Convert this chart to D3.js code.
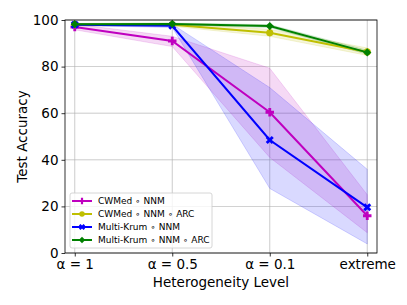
<!DOCTYPE html>
<html>
<head>
<meta charset="utf-8">
<script src="https://cdn.jsdelivr.net/npm/d3@7"></script>
<style>
body { margin: 0; background: #fff; }
svg { font-family: "DejaVu Sans", sans-serif; }
</style>
</head>
<body>
<div id="chart"></div>
<script>
var levels = ["α = 1", "α = 0.5", "α = 0.1", "extreme"];
var yTicks = [0, 20, 40, 60, 80, 100];

var cwmedNnm = [97, 91, 60.4, 16];
var cwmedNnmLo = [95.8, 88.6, 41, 8.7];
var cwmedNnmHi = [98.2, 93, 79.3, 25];

var cwmedArc = [98, 98, 94.5, 86.3];
var cwmedArcLo = [97.5, 97.3, 93, 84.8];
var cwmedArcHi = [98.5, 98.6, 96, 88];

var krumNnm = [98, 97.5, 48.5, 19.6];
var krumNnmLo = [97.6, 96.8, 27.7, 3.9];
var krumNnmHi = [98.4, 98.2, 71, 35.9];

var krumArc = [98.2, 98.3, 97.4, 86.1];
var krumArcLo = [97.9, 97.9, 96.8, 85.3];
var krumArcHi = [98.5, 98.7, 98, 87];

var series = [
    {name: "CWMed ∘ NNM", color: "#bf00bf", marker: "plus", mean: cwmedNnm, lo: cwmedNnmLo, hi: cwmedNnmHi},
    {name: "CWMed ∘ NNM ∘ ARC", color: "#bfbf00", marker: "circle", mean: cwmedArc, lo: cwmedArcLo, hi: cwmedArcHi},
    {name: "Multi-Krum ∘ NNM", color: "#0000ff", marker: "x", mean: krumNnm, lo: krumNnmLo, hi: krumNnmHi},
    {name: "Multi-Krum ∘ NNM ∘ ARC", color: "#008000", marker: "diamond", mean: krumArc, lo: krumArcLo, hi: krumArcHi}
];

var margin = {left: 65, right: 30, top: 20, bottom: 52},
    width = 407 - margin.left - margin.right,
    height = 305 - margin.top - margin.bottom;

var svg = d3.select("#chart").append("svg")
    .attr("width", 407)
    .attr("height", 305)
    .append("g")
    .attr("transform", "translate(" + margin.left + "," + margin.top + ")");

var xScale = d3.scalePoint().domain(levels).range([0, width]).padding(0.1);
var yScale = d3.scaleLinear().domain([0, 100]).range([height, 0]);

// grid
svg.append("g").selectAll("line").data(levels).enter().append("line")
    .attr("x1", function(d) { return xScale(d); })
    .attr("x2", function(d) { return xScale(d); })
    .attr("y1", 0).attr("y2", height)
    .attr("stroke", "#b0b0b0").attr("stroke-width", 0.8).attr("opacity", 0.8);
svg.append("g").selectAll("line").data(yTicks).enter().append("line")
    .attr("x1", 0).attr("x2", width)
    .attr("y1", function(d) { return yScale(d); })
    .attr("y2", function(d) { return yScale(d); })
    .attr("stroke", "#b0b0b0").attr("stroke-width", 0.8).attr("opacity", 0.8);

// bands
var area = d3.area()
    .x(function(d, i) { return xScale(levels[i]); })
    .y0(function(d) { return yScale(d[0]); })
    .y1(function(d) { return yScale(d[1]); });

series.forEach(function(s) {
    svg.append("path")
        .datum(s.lo.map(function(v, i) { return [v, s.hi[i]]; }))
        .attr("d", area)
        .attr("fill", s.color)
        .attr("fill-opacity", 0.15)
        .attr("stroke", s.color)
        .attr("stroke-opacity", 0.15);
});

var line = d3.line()
    .x(function(d, i) { return xScale(levels[i]); })
    .y(function(d) { return yScale(d); });

function marker(sel, type, color, k) {
    if (type == "circle") {
        sel.append("path").attr("d", d3.symbol(d3.symbolCircle, 40 * k)()).attr("fill", color);
    } else if (type == "plus") {
        sel.append("path").attr("d", d3.symbol(d3.symbolCross, 40 * k)()).attr("fill", color);
    } else if (type == "x") {
        sel.append("path").attr("d", d3.symbol(d3.symbolCross, 40 * k)()).attr("fill", color)
            .attr("transform", "rotate(45)");
    } else {
        sel.append("path").attr("d", d3.symbol(d3.symbolSquare, 34 * k)()).attr("fill", color)
            .attr("transform", "rotate(45)");
    }
}

series.forEach(function(s) {
    svg.append("path")
        .datum(s.mean)
        .attr("d", line)
        .attr("fill", "none")
        .attr("stroke", s.color)
        .attr("stroke-width", 2);
    s.mean.forEach(function(v, i) {
        var g = svg.append("g")
            .attr("transform", "translate(" + xScale(levels[i]) + "," + yScale(v) + ")");
        marker(g, s.marker, s.color, 1);
    });
});

// axes
var xAxis = d3.axisBottom(xScale).tickSize(3.5).tickPadding(3);
var yAxis = d3.axisLeft(yScale).tickValues(yTicks).tickSize(3.5).tickPadding(3);

var gX = svg.append("g")
    .attr("transform", "translate(0," + height + ")")
    .call(xAxis);
var gY = svg.append("g").call(yAxis);
[gX, gY].forEach(function(g) {
    g.select(".domain").remove();
    g.selectAll("line").attr("stroke", "#000").attr("stroke-width", 0.8);
    g.selectAll("text").attr("font-size", "13.5px").attr("fill", "#000")
        .attr("font-family", "DejaVu Sans");
});

svg.append("rect")
    .attr("width", width).attr("height", height)
    .attr("fill", "none").attr("stroke", "#000").attr("stroke-width", 0.8);

svg.append("text")
    .attr("x", width / 2)
    .attr("y", height + 34)
    .style("text-anchor", "middle")
    .attr("font-size", "13.5px")
    .text("Heterogeneity Level");

svg.append("text")
    .attr("transform", "rotate(-90)")
    .attr("x", -height / 2)
    .attr("y", -38)
    .style("text-anchor", "middle")
    .attr("font-size", "13.5px")
    .text("Test Accuracy");

// legend
var legend = svg.append("g").attr("transform", "translate(5,173)");
legend.append("rect")
    .attr("width", 142).attr("height", 55).attr("rx", 2)
    .attr("fill", "#fff").attr("fill-opacity", 0.8)
    .attr("stroke", "#ccc").attr("stroke-width", 0.8);
series.forEach(function(s, i) {
    var row = legend.append("g").attr("transform", "translate(0," + (8 + i * 13) + ")");
    row.append("line").attr("x1", 2).attr("x2", 22)
        .attr("stroke", s.color).attr("stroke-width", 2);
    var m = row.append("g").attr("transform", "translate(12,0)");
    marker(m, s.marker, s.color, 0.6);
    row.append("text").attr("x", 28).attr("dy", "0.35em")
        .attr("font-size", "9px").text(s.name);
});
</script>
</body>
</html>
